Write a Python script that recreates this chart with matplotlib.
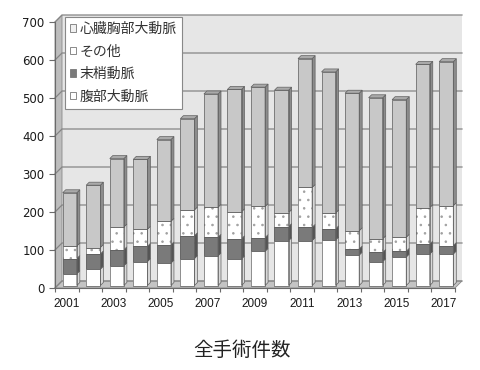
import numpy as np
import matplotlib
matplotlib.use("Agg")
import matplotlib.pyplot as plt
from matplotlib.patches import Polygon, Patch

plt.rcParams['font.family'] = ['Noto Sans CJK JP', 'DejaVu Sans']
plt.rcParams['hatch.linewidth'] = 0.6

years = np.arange(2001, 2018)
fukubu = [31, 43, 52, 63, 59, 71, 78, 70, 90, 118, 118, 120, 80, 63, 75, 83, 83]        # 腹部大動脈
mashou = [40, 40, 42, 40, 48, 60, 49, 53, 36, 37, 35, 29, 16, 24, 15, 26, 22]            # 末梢動脈
sonota = [33, 17, 60, 45, 62, 68, 79, 71, 82, 37, 105, 42, 48, 36, 37, 96, 105]          # その他
shinzou = [140, 164, 180, 184, 215, 240, 298, 322, 314, 322, 339, 371, 362, 371, 362, 377, 379]  # 心臓胸部大動脈

series = [
    ("腹部大動脈", fukubu, "#ffffff", "#d8d8d8", None),
    ("末梢動脈", mashou, "#7a7a7a", "#555555", None),
    ("その他", sonota, "#ffffff", "#d8d8d8", ".."),
    ("心臓胸部大動脈", shinzou, "#c8c8c8", "#8c8c8c", None),
]
yticks = [0, 100, 200, 300, 400, 500, 600, 700]
xlabels = [str(y) if y % 2 == 1 else "" for y in years]

fig = plt.figure(figsize=(4.8, 3.7), dpi=100)
ax = fig.add_axes([55 / 480, 1 - 288 / 370, 400 / 480, 266 / 370])
x0, x1 = 2000.5, 2017.5
ymax = 700
ax.set_xlim(x0, x1)
ax.set_ylim(0, ymax)

# data units per pixel
px = (x1 - x0) / 400
py = ymax / 266

# walls (depth 7 px)
wd, wh = 7 * px, 7 * py
ax.add_patch(Polygon([(x0 + wd, wh), (x1 + wd, wh), (x1 + wd, ymax + wh), (x0 + wd, ymax + wh)],
                     closed=True, fc="#e6e6e6", ec="none", zorder=0, clip_on=False))
ax.add_patch(Polygon([(x0, 0), (x0 + wd, wh), (x0 + wd, ymax + wh), (x0, ymax)],
                     closed=True, fc="#bdbdbd", ec="#8a8a8a", lw=0.6, zorder=1, clip_on=False))
ax.add_patch(Polygon([(x0, 0), (x1, 0), (x1 + wd, wh), (x0 + wd, wh)],
                     closed=True, fc="#c4c4c4", ec="#8a8a8a", lw=0.6, zorder=1, clip_on=False))
for v in yticks:
    ax.plot([x0, x0 + wd, x1 + wd], [v, v + wh, v + wh], color="#858585", lw=0.9,
            zorder=1.5, clip_on=False)

# pseudo 3D stacked bars
w = 0.6
bx, by = 3 * px, 2.5 * py      # bar offset inside depth
dx, dy = 3 * px, 3 * py        # bar depth
bottom = np.zeros(len(years))
for i, (name, vals, fc, sc, hatch) in enumerate(series):
    vals = np.array(vals, dtype=float)
    # fill (+ dots in light gray), then outline
    ax.bar(years + bx, vals, width=w, bottom=bottom + by, color=fc, edgecolor="#a0a0a0",
           linewidth=0, hatch=hatch, zorder=3, clip_on=False)
    ax.bar(years + bx, vals, width=w, bottom=bottom + by, fill=False, edgecolor="#606060",
           linewidth=0.5, zorder=3.1, clip_on=False)
    for xc, b, h in zip(years + bx, bottom + by, vals):
        r = xc + w / 2
        ax.add_patch(Polygon([(r, b), (r + dx, b + dy), (r + dx, b + h + dy), (r, b + h)],
                             closed=True, fc=sc, ec="#606060", lw=0.5, zorder=3, clip_on=False))
        if i == len(series) - 1:
            l = xc - w / 2
            t = b + h
            ax.add_patch(Polygon([(l, t), (r, t), (r + dx, t + dy), (l + dx, t + dy)],
                                 closed=True, fc="#aaaaaa", ec="#606060", lw=0.5, zorder=3,
                                 clip_on=False))
    bottom += vals

for s in ["top", "right"]:
    ax.spines[s].set_visible(False)
for s in ["left", "bottom"]:
    ax.spines[s].set_color("#6a6a6a")
    ax.spines[s].set_linewidth(0.8)
    ax.spines[s].set_zorder(2)

ax.set_yticks(yticks)
ax.set_yticklabels([str(v) for v in yticks], family="DejaVu Sans", fontsize=8.5, color="#1a1a1a")
ax.tick_params(axis="y", length=4.5, width=0.8, color="#6a6a6a", pad=3)
ax.set_xticks(years)
ax.set_xticklabels(xlabels, family="Liberation Sans", fontsize=8.5, color="#1a1a1a")
ax.set_xticks(np.arange(x0, x1 + 0.01, 1), minor=True)
ax.tick_params(axis="x", which="major", length=0, pad=7)
ax.tick_params(axis="x", which="minor", length=3, width=0.8, color="#6a6a6a")
ax.set_facecolor("none")

handles = [Patch(fc=fc, ec="#777777", lw=0.6) for _, _, fc, _, _ in series][::-1]
handles[0] = Patch(fc="#f0f0f0", ec="#777777", lw=0.6)
labels = [s[0] for s in series][::-1]
leg = ax.legend(handles, labels, loc="upper left", bbox_to_anchor=(65 / 480, 1 - 17 / 370),
                bbox_transform=fig.transFigure, fontsize=10, frameon=True, fancybox=False,
                edgecolor="#888888", facecolor="white", framealpha=1, handlelength=0.45,
                handleheight=0.45, handletextpad=0.25, labelspacing=0.62, borderpad=0.35,
                borderaxespad=0)
leg.get_frame().set_linewidth(0.8)
leg.set_zorder(5)
for t in leg.get_texts():
    t.set_color("#333333")

fig.text(0.505, 1 - 350 / 370, "全手術件数", ha="center", va="center", fontsize=14, color="#222222")

fig.savefig("out.png", dpi=100)
